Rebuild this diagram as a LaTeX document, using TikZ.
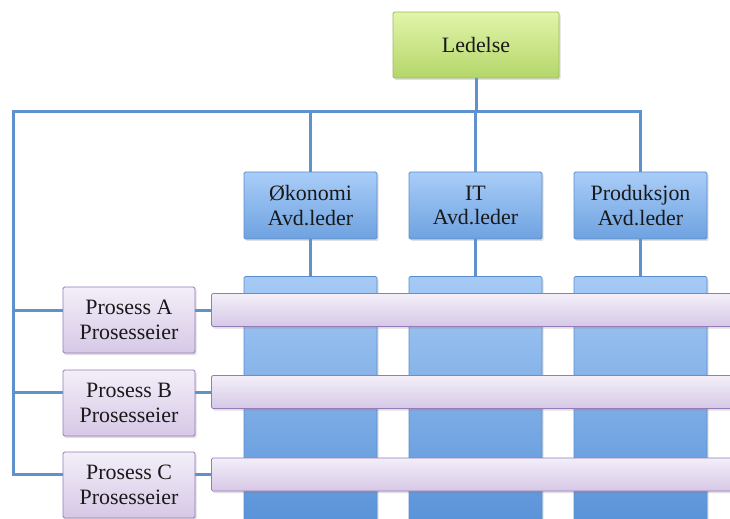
\documentclass[tikz,border=0pt]{standalone}
\usepackage{fontspec}
\setmainfont{Liberation Serif}
\usetikzlibrary{shadows}
\definecolor{gtop}{HTML}{E2F5AA}
\definecolor{gbot}{HTML}{B4D66A}
\definecolor{gbrd}{HTML}{9DBE5A}
\definecolor{btop}{HTML}{A9CDF8}
\definecolor{bbot}{HTML}{6EA2E0}
\definecolor{bbrd}{HTML}{5A8DCC}
\definecolor{ctop}{HTML}{A6CAF5}
\definecolor{cbot}{HTML}{3F80CF}
\definecolor{ptop}{HTML}{F3EFF9}
\definecolor{pbot}{HTML}{D6C8E6}
\definecolor{pbrd}{HTML}{957BBA}
\definecolor{conncol}{HTML}{5F91CC}
\tikzset{
  box/.style={draw, line width=0.8bp, rounded corners=1.5bp, align=center, inner sep=0pt,
    font=\fontsize{22}{25}\selectfont, text=black!90,
    drop shadow={opacity=0.25, shadow xshift=1.5bp, shadow yshift=-2bp}},
  greenbox/.style={box, draw=gbrd, top color=gtop, bottom color=gbot, minimum width=166bp, minimum height=66bp},
  deptbox/.style={box, draw=bbrd, top color=btop, bottom color=bbot, minimum width=133bp, minimum height=67bp},
  colbox/.style={box, draw=bbrd, top color=ctop, bottom color=cbot, minimum width=133bp, minimum height=330bp, anchor=north},
  procbox/.style={box, draw=pbrd, top color=ptop, bottom color=pbot, minimum width=132bp, minimum height=66bp},
  barbox/.style={box, draw=pbrd, top color=ptop, bottom color=pbot, minimum width=560bp, minimum height=33bp, anchor=west},
  conn/.style={draw=conncol, line width=3bp}
}
\begin{document}
\begin{tikzpicture}[x=1bp,y=-1bp]
\useasboundingbox (0,0) rectangle (730,519);
\clip (0,0) rectangle (730,519);
% top
\node[greenbox] (led) at (476,45) {Ledelse};
\node[deptbox] (oko) at (310.5,205.5) {Økonomi\\Avd.leder};
\node[deptbox] (it) at (475.5,205.5) {IT\\Avd.leder};
\node[deptbox] (prod) at (640.5,205.5) {Produksjon\\Avd.leder};
% columns
\node[colbox] (colO) at (310.5,276) {};
\node[colbox] (colI) at (475.5,276) {};
\node[colbox] (colP) at (640.5,276) {};
% bars
\node[barbox] (barA) at (211,310) {};
\node[barbox] (barB) at (211,392) {};
\node[barbox] (barC) at (211,474.5) {};
% process boxes
\node[procbox] (pA) at (129,320) {Prosess A\\Prosesseier};
\node[procbox] (pB) at (129,403) {Prosess B\\Prosesseier};
\node[procbox] (pC) at (129,485) {Prosess C\\Prosesseier};
% connectors
\coordinate (busL) at (13,112);
\draw[conn] (led.south) -- (led.south |- busL);
\draw[conn] (prod.north) |- (busL) |- (pC.west |- barC.west);
\draw[conn] (oko.north) -- (oko.north |- busL);
\draw[conn] (it.north) -- (it.north |- busL);
\draw[conn] (busL |- barA.west) -- (pA.west |- barA.west);
\draw[conn] (busL |- barB.west) -- (pB.west |- barB.west);
\draw[conn] (oko.south) -- (colO.north);
\draw[conn] (it.south) -- (colI.north);
\draw[conn] (prod.south) -- (colP.north);
\draw[conn] (pA.east |- barA.west) -- (barA.west);
\draw[conn] (pB.east |- barB.west) -- (barB.west);
\draw[conn] (pC.east |- barC.west) -- (barC.west);
\end{tikzpicture}
\end{document}
